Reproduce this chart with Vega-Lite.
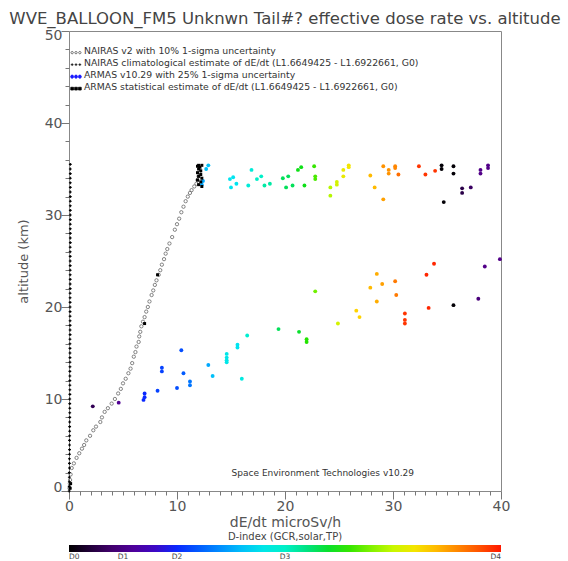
{
  "$schema": "https://vega.github.io/schema/vega-lite/v6.json",
  "width": 432,
  "height": 460,
  "autosize": "none",
  "padding": {"left": 69, "top": 31, "right": 67, "bottom": 70},
  "background": "white",
  "title": {
    "text": "WVE_BALLOON_FM5 Unknwn Tail#? effective dose rate vs. altitude",
    "font": "DejaVu Sans", "fontSize": 16.5, "fontWeight": "normal", "color": "#444444",
    "anchor": "middle", "frame": "group", "offset": 1
  },
  "config": {
    "view": {"stroke": "#888888", "strokeWidth": 1},
    "axis": {
      "domainColor": "#888888", "tickColor": "#888888", "labelColor": "#555555", "titleColor": "#555555",
      "labelFont": "DejaVu Sans", "titleFont": "DejaVu Sans", "titleFontWeight": "normal", "grid": false, "ticks": true
    }
  },
  "datasets": {
    "nairas": [
      {"rate": 0.05, "alt": 0.3}, {"rate": 0.08, "alt": 0.8}, {"rate": 0.1, "alt": 1.2}, {"rate": 0.15, "alt": 1.8},
      {"rate": 0.25, "alt": 2.5}, {"rate": 0.45, "alt": 3.0}, {"rate": 0.7, "alt": 3.6}, {"rate": 0.95, "alt": 4.1},
      {"rate": 1.2, "alt": 4.6}, {"rate": 1.4, "alt": 5.0}, {"rate": 1.6, "alt": 5.5}, {"rate": 1.95, "alt": 6.0},
      {"rate": 2.25, "alt": 6.6}, {"rate": 2.5, "alt": 7.0}, {"rate": 2.9, "alt": 7.5}, {"rate": 3.05, "alt": 8.0},
      {"rate": 3.3, "alt": 8.6}, {"rate": 3.6, "alt": 9.0}, {"rate": 3.95, "alt": 9.5}, {"rate": 4.25, "alt": 10.0},
      {"rate": 4.55, "alt": 10.6}, {"rate": 4.8, "alt": 11.1}, {"rate": 5.0, "alt": 11.7}, {"rate": 5.25, "alt": 12.2},
      {"rate": 5.5, "alt": 12.8}, {"rate": 5.7, "alt": 13.3}, {"rate": 5.85, "alt": 13.9}, {"rate": 6.0, "alt": 14.6},
      {"rate": 6.15, "alt": 15.1}, {"rate": 6.25, "alt": 15.7}, {"rate": 6.45, "alt": 16.2}, {"rate": 6.5, "alt": 16.8},
      {"rate": 6.6, "alt": 17.3}, {"rate": 6.7, "alt": 17.9}, {"rate": 6.85, "alt": 18.4}, {"rate": 7.0, "alt": 18.9},
      {"rate": 7.15, "alt": 19.5}, {"rate": 7.3, "alt": 20.0}, {"rate": 7.45, "alt": 20.6}, {"rate": 7.65, "alt": 21.3},
      {"rate": 7.8, "alt": 21.8}, {"rate": 7.95, "alt": 22.4}, {"rate": 8.1, "alt": 22.9}, {"rate": 8.3, "alt": 23.5},
      {"rate": 8.45, "alt": 24.0}, {"rate": 8.6, "alt": 24.6}, {"rate": 8.8, "alt": 25.2}, {"rate": 8.95, "alt": 25.8},
      {"rate": 9.1, "alt": 26.3}, {"rate": 9.3, "alt": 26.9}, {"rate": 9.55, "alt": 27.6}, {"rate": 9.8, "alt": 28.4},
      {"rate": 10.0, "alt": 29.0}, {"rate": 10.2, "alt": 29.6}, {"rate": 10.4, "alt": 30.3}, {"rate": 10.6, "alt": 30.9},
      {"rate": 10.8, "alt": 31.5}, {"rate": 11.0, "alt": 32.0}, {"rate": 11.2, "alt": 32.4}, {"rate": 11.35, "alt": 32.7},
      {"rate": 11.6, "alt": 33.1}, {"rate": 11.8, "alt": 33.4}, {"rate": 11.9, "alt": 33.8}, {"rate": 12.0, "alt": 34.2},
      {"rate": 12.05, "alt": 34.6}, {"rate": 12.1, "alt": 35.1}
    ],
    "clim": [
      {"rate": 0.02, "alt": 0.0}, {"rate": 0.02, "alt": 0.5}, {"rate": 0.03, "alt": 1.0}, {"rate": 0.03, "alt": 1.5},
      {"rate": 0.03, "alt": 2.0}, {"rate": 0.04, "alt": 2.5}, {"rate": 0.04, "alt": 3.0}, {"rate": 0.04, "alt": 3.5},
      {"rate": 0.05, "alt": 4.0}, {"rate": 0.05, "alt": 4.5}, {"rate": 0.05, "alt": 5.0}, {"rate": 0.05, "alt": 5.5},
      {"rate": 0.06, "alt": 6.0}, {"rate": 0.06, "alt": 6.5}, {"rate": 0.06, "alt": 7.0}, {"rate": 0.06, "alt": 7.5},
      {"rate": 0.07, "alt": 8.0}, {"rate": 0.07, "alt": 8.5}, {"rate": 0.07, "alt": 9.0}, {"rate": 0.07, "alt": 9.5},
      {"rate": 0.07, "alt": 10.0}, {"rate": 0.08, "alt": 10.5}, {"rate": 0.08, "alt": 11.0}, {"rate": 0.08, "alt": 11.5},
      {"rate": 0.08, "alt": 12.0}, {"rate": 0.08, "alt": 12.5}, {"rate": 0.08, "alt": 13.0}, {"rate": 0.09, "alt": 13.5},
      {"rate": 0.09, "alt": 14.0}, {"rate": 0.09, "alt": 14.5}, {"rate": 0.09, "alt": 15.0}, {"rate": 0.09, "alt": 15.5},
      {"rate": 0.09, "alt": 16.0}, {"rate": 0.09, "alt": 16.5}, {"rate": 0.1, "alt": 17.0}, {"rate": 0.1, "alt": 17.5},
      {"rate": 0.1, "alt": 18.0}, {"rate": 0.1, "alt": 18.5}, {"rate": 0.1, "alt": 19.0}, {"rate": 0.1, "alt": 19.5},
      {"rate": 0.1, "alt": 20.0}, {"rate": 0.1, "alt": 20.5}, {"rate": 0.1, "alt": 21.0}, {"rate": 0.1, "alt": 21.5},
      {"rate": 0.11, "alt": 22.0}, {"rate": 0.11, "alt": 22.5}, {"rate": 0.11, "alt": 23.0}, {"rate": 0.11, "alt": 23.5},
      {"rate": 0.11, "alt": 24.0}, {"rate": 0.11, "alt": 24.5}, {"rate": 0.11, "alt": 25.0}, {"rate": 0.11, "alt": 25.5},
      {"rate": 0.11, "alt": 26.0}, {"rate": 0.11, "alt": 26.5}, {"rate": 0.12, "alt": 27.0}, {"rate": 0.12, "alt": 27.5},
      {"rate": 0.12, "alt": 28.0}, {"rate": 0.12, "alt": 28.5}, {"rate": 0.12, "alt": 29.0}, {"rate": 0.12, "alt": 29.5},
      {"rate": 0.12, "alt": 30.0}, {"rate": 0.12, "alt": 30.5}, {"rate": 0.12, "alt": 31.0}, {"rate": 0.12, "alt": 31.5},
      {"rate": 0.12, "alt": 32.0}, {"rate": 0.12, "alt": 32.5}, {"rate": 0.12, "alt": 33.0}, {"rate": 0.12, "alt": 33.5},
      {"rate": 0.12, "alt": 34.0}, {"rate": 0.12, "alt": 34.5}, {"rate": 0.12, "alt": 35.0}, {"rate": 0.12, "alt": 35.5}
    ],
    "armas": [
      {"rate": 2.2, "alt": 9.2, "dindex": 0.3}, {"rate": 4.6, "alt": 9.6, "dindex": 0.55},
      {"rate": 7.0, "alt": 10.6, "dindex": 1.0}, {"rate": 7.0, "alt": 10.2, "dindex": 1.0}, {"rate": 6.9, "alt": 9.9, "dindex": 1.0},
      {"rate": 8.6, "alt": 13.4, "dindex": 1.1}, {"rate": 8.6, "alt": 13.0, "dindex": 1.1}, {"rate": 8.2, "alt": 10.9, "dindex": 1.1},
      {"rate": 10.0, "alt": 11.2, "dindex": 1.15}, {"rate": 10.4, "alt": 15.3, "dindex": 1.15}, {"rate": 10.6, "alt": 12.8, "dindex": 1.2},
      {"rate": 11.2, "alt": 11.9, "dindex": 1.3}, {"rate": 11.2, "alt": 11.5, "dindex": 1.3},
      {"rate": 12.9, "alt": 13.7, "dindex": 1.5}, {"rate": 13.3, "alt": 12.5, "dindex": 1.6},
      {"rate": 14.6, "alt": 14.9, "dindex": 1.8}, {"rate": 14.6, "alt": 14.5, "dindex": 1.8}, {"rate": 14.6, "alt": 14.2, "dindex": 1.8}, {"rate": 14.6, "alt": 14.0, "dindex": 1.8},
      {"rate": 15.6, "alt": 15.9, "dindex": 1.75}, {"rate": 15.6, "alt": 15.6, "dindex": 1.75},
      {"rate": 16.0, "alt": 12.2, "dindex": 1.85}, {"rate": 16.5, "alt": 16.9, "dindex": 1.95},
      {"rate": 19.4, "alt": 17.6, "dindex": 2.3}, {"rate": 21.3, "alt": 17.3, "dindex": 2.4},
      {"rate": 22.0, "alt": 16.5, "dindex": 2.55}, {"rate": 22.0, "alt": 16.2, "dindex": 2.55},
      {"rate": 22.8, "alt": 21.7, "dindex": 2.75}, {"rate": 24.9, "alt": 18.2, "dindex": 3.05},
      {"rate": 26.6, "alt": 19.6, "dindex": 3.3}, {"rate": 26.9, "alt": 18.9, "dindex": 3.3},
      {"rate": 27.9, "alt": 22.1, "dindex": 3.4}, {"rate": 28.5, "alt": 23.6, "dindex": 3.45}, {"rate": 28.5, "alt": 20.6, "dindex": 3.45},
      {"rate": 29.0, "alt": 22.5, "dindex": 3.5}, {"rate": 30.2, "alt": 22.8, "dindex": 3.65}, {"rate": 30.3, "alt": 21.3, "dindex": 3.65},
      {"rate": 31.1, "alt": 19.3, "dindex": 3.9}, {"rate": 31.1, "alt": 18.6, "dindex": 3.9}, {"rate": 31.1, "alt": 18.2, "dindex": 3.9},
      {"rate": 33.1, "alt": 23.5, "dindex": 3.95}, {"rate": 33.8, "alt": 24.7, "dindex": 3.95}, {"rate": 33.3, "alt": 19.9, "dindex": 3.95},
      {"rate": 35.6, "alt": 20.2, "dindex": 0.02}, {"rate": 37.9, "alt": 20.9, "dindex": 0.45},
      {"rate": 38.5, "alt": 24.4, "dindex": 0.5}, {"rate": 39.9, "alt": 25.2, "dindex": 0.5},
      {"rate": 12.9, "alt": 35.4, "dindex": 1.6}, {"rate": 12.7, "alt": 35.0, "dindex": 1.6},
      {"rate": 12.4, "alt": 33.7, "dindex": 1.5}, {"rate": 12.3, "alt": 33.3, "dindex": 1.5},
      {"rate": 15.2, "alt": 34.1, "dindex": 1.75}, {"rate": 14.9, "alt": 33.9, "dindex": 1.75}, {"rate": 15.5, "alt": 33.4, "dindex": 1.75}, {"rate": 15.0, "alt": 33.0, "dindex": 1.75},
      {"rate": 16.9, "alt": 34.9, "dindex": 1.9}, {"rate": 16.6, "alt": 33.2, "dindex": 1.9},
      {"rate": 17.4, "alt": 33.9, "dindex": 2.0}, {"rate": 17.8, "alt": 34.2, "dindex": 2.0},
      {"rate": 18.1, "alt": 33.2, "dindex": 2.1}, {"rate": 18.6, "alt": 33.4, "dindex": 2.1},
      {"rate": 19.8, "alt": 34.0, "dindex": 2.3}, {"rate": 20.3, "alt": 34.2, "dindex": 2.3}, {"rate": 20.1, "alt": 33.0, "dindex": 2.3}, {"rate": 20.7, "alt": 33.2, "dindex": 2.3},
      {"rate": 21.2, "alt": 34.9, "dindex": 2.45}, {"rate": 21.5, "alt": 35.2, "dindex": 2.45}, {"rate": 21.8, "alt": 33.2, "dindex": 2.45},
      {"rate": 22.7, "alt": 35.3, "dindex": 2.6}, {"rate": 22.8, "alt": 34.2, "dindex": 2.65}, {"rate": 22.8, "alt": 33.9, "dindex": 2.65},
      {"rate": 24.2, "alt": 33.0, "dindex": 2.95}, {"rate": 24.2, "alt": 32.1, "dindex": 2.95},
      {"rate": 24.8, "alt": 33.6, "dindex": 3.05}, {"rate": 24.8, "alt": 33.3, "dindex": 3.05},
      {"rate": 25.4, "alt": 34.9, "dindex": 3.15}, {"rate": 25.4, "alt": 34.2, "dindex": 3.15},
      {"rate": 25.9, "alt": 35.4, "dindex": 3.2}, {"rate": 25.9, "alt": 35.2, "dindex": 3.2},
      {"rate": 27.9, "alt": 34.3, "dindex": 3.4}, {"rate": 28.3, "alt": 33.0, "dindex": 3.4},
      {"rate": 29.1, "alt": 31.7, "dindex": 3.5}, {"rate": 29.1, "alt": 35.3, "dindex": 3.55},
      {"rate": 29.6, "alt": 34.9, "dindex": 3.55}, {"rate": 29.6, "alt": 34.5, "dindex": 3.55},
      {"rate": 30.2, "alt": 35.3, "dindex": 3.6}, {"rate": 30.2, "alt": 35.1, "dindex": 3.6},
      {"rate": 30.5, "alt": 34.4, "dindex": 3.7},
      {"rate": 32.4, "alt": 35.3, "dindex": 3.9}, {"rate": 33.0, "alt": 34.4, "dindex": 3.9}, {"rate": 33.9, "alt": 34.8, "dindex": 3.9},
      {"rate": 34.5, "alt": 35.4, "dindex": 0.02}, {"rate": 34.5, "alt": 35.0, "dindex": 0.02}, {"rate": 34.7, "alt": 31.4, "dindex": 0.02},
      {"rate": 35.6, "alt": 35.3, "dindex": 0.02}, {"rate": 35.6, "alt": 34.5, "dindex": 0.02},
      {"rate": 36.4, "alt": 32.9, "dindex": 0.25}, {"rate": 36.4, "alt": 32.4, "dindex": 0.25},
      {"rate": 37.2, "alt": 33.0, "dindex": 0.35},
      {"rate": 38.1, "alt": 34.9, "dindex": 0.5}, {"rate": 38.1, "alt": 34.5, "dindex": 0.5},
      {"rate": 38.8, "alt": 35.4, "dindex": 0.5}, {"rate": 38.8, "alt": 35.1, "dindex": 0.5}
    ],
    "stat": [
      {"rate": 11.9, "alt": 35.3}, {"rate": 12.0, "alt": 35.4}, {"rate": 12.1, "alt": 35.2}, {"rate": 12.3, "alt": 35.4},
      {"rate": 12.0, "alt": 35.0}, {"rate": 12.2, "alt": 34.8}, {"rate": 11.9, "alt": 34.6}, {"rate": 12.2, "alt": 34.4},
      {"rate": 12.0, "alt": 34.2}, {"rate": 12.3, "alt": 34.0}, {"rate": 11.9, "alt": 33.8}, {"rate": 12.2, "alt": 33.6},
      {"rate": 12.0, "alt": 33.3}, {"rate": 12.3, "alt": 33.1},
      {"rate": 8.2, "alt": 23.5}, {"rate": 7.0, "alt": 18.2}, {"rate": 0.1, "alt": 0.3}, {"rate": 0.15, "alt": 0.8}
    ],
    "legend": [
      {"series": "NAIRAS v2 with 10% 1-sigma uncertainty"},
      {"series": "NAIRAS climatological estimate of dE/dt (L1.6649425 - L1.6922661, G0)"},
      {"series": "ARMAS v10.29 with 25% 1-sigma uncertainty"},
      {"series": "ARMAS statistical estimate of dE/dt (L1.6649425 - L1.6922661, G0)"}
    ],
    "credit": [{"label": "Space Environment Technologies v10.29"}]
  },
  "layer": [
    {
      "data": {"name": "nairas"},
      "mark": {"type": "point", "shape": "circle", "filled": false, "size": 11, "strokeWidth": 0.8, "color": "#666666", "opacity": 1},
      "encoding": {
        "x": {"field": "rate", "type": "quantitative", "scale": {"domain": [0, 40], "nice": false},
          "axis": {"orient": "bottom",
            "values": [0,1,2,3,4,5,6,7,8,9,10,11,12,13,14,15,16,17,18,19,20,21,22,23,24,25,26,27,28,29,30,31,32,33,34,35,36,37,38,39,40],
            "labelExpr": "datum.value % 10 === 0 ? datum.label : ''",
            "ticks": true, "tickColor": "#777777", "tickWidth": 1, "tickOpacity": 1,
            "tickSize": {"condition": {"test": "datum.value % 10 === 0", "value": 8}, "value": 4},
            "domain": false, "grid": false, "labelOverlap": false, "labelBound": false, "labelFlush": false,
            "labelPadding": 0, "labelFontSize": 14,
            "title": "dE/dt microSv/h", "titleFontSize": 14, "titlePadding": 2}},
        "y": {"field": "alt", "type": "quantitative", "scale": {"domain": [0, 50], "nice": false},
          "axis": {"orient": "left",
            "values": [0,2,4,6,8,10,12,14,16,18,20,22,24,26,28,30,32,34,36,38,40,42,44,46,48,50],
            "labelExpr": "datum.value % 10 === 0 ? datum.label : ''",
            "ticks": true, "tickColor": "#777777", "tickWidth": 1, "tickOpacity": 1,
            "tickSize": {"condition": {"test": "datum.value % 10 === 0", "value": 8}, "value": 4},
            "domain": false, "grid": false, "labelOverlap": false, "labelBound": false, "labelFlush": true, "labelFlushOffset": 3,
            "labelPadding": -1, "labelFontSize": 14,
            "title": "altitude (km)", "titleFontSize": 13, "titlePadding": 14}}
      }
    },
    {
      "data": {"name": "clim"},
      "mark": {"type": "point", "shape": "cross", "filled": true, "size": 8, "color": "#000000", "opacity": 1},
      "encoding": {
        "x": {"field": "rate", "type": "quantitative", "scale": {"domain": [0, 40], "nice": false}, "axis": null},
        "y": {"field": "alt", "type": "quantitative", "scale": {"domain": [0, 50], "nice": false}, "axis": null}
      }
    },
    {
      "data": {"name": "armas"},
      "mark": {"type": "point", "shape": "circle", "filled": true, "size": 15, "opacity": 1},
      "encoding": {
        "x": {"field": "rate", "type": "quantitative", "scale": {"domain": [0, 40], "nice": false}, "axis": null},
        "y": {"field": "alt", "type": "quantitative", "scale": {"domain": [0, 50], "nice": false}, "axis": null},
        "color": {"field": "dindex", "type": "quantitative",
          "scale": {
            "domain": [0, 0.25, 0.5, 0.75, 1, 1.25, 1.5, 1.75, 2, 2.25, 2.5, 2.75, 3, 3.25, 3.5, 3.75, 4],
            "range": ["#000000", "#2a0048", "#520088", "#4800b8", "#0a28ff", "#0068ff", "#00a8ff", "#00e4f0", "#00f0c8", "#00e070", "#10e000", "#70f000", "#c8f800", "#ffe000", "#ffa000", "#ff6000", "#ff1800"],
            "interpolate": "rgb"
          },
          "legend": {
            "orient": "none", "legendX": 0, "legendY": 501, "direction": "horizontal",
            "gradientLength": 432, "gradientThickness": 7, "gradientStrokeWidth": 0,
            "title": "D-index (GCR,solar,TP)", "titleAnchor": "middle", "titleFont": "DejaVu Sans", "titleFontSize": 10,
            "titleFontWeight": "normal", "titleColor": "#444444", "titlePadding": 3,
            "values": [0, 0.5, 1, 2, 4],
            "labelExpr": "datum.value == 0 ? 'D0' : datum.value == 0.5 ? 'D1' : datum.value == 1 ? 'D2' : datum.value == 2 ? 'D3' : 'D4'",
            "labelFont": "DejaVu Sans", "labelFontSize": 7.5, "labelColor": "#444444", "labelAlign": "center", "labelOffset": 1, "labelOverlap": false
          }
        }
      }
    },
    {
      "data": {"name": "stat"},
      "mark": {"type": "point", "shape": "square", "filled": true, "size": 9, "color": "#000000", "opacity": 1},
      "encoding": {
        "x": {"field": "rate", "type": "quantitative", "scale": {"domain": [0, 40], "nice": false}, "axis": null},
        "y": {"field": "alt", "type": "quantitative", "scale": {"domain": [0, 50], "nice": false}, "axis": null}
      }
    },
    {
      "data": {"name": "legend"},
      "mark": {"type": "point", "size": 100, "opacity": 0, "strokeWidth": 0.8},
      "encoding": {
        "shape": {"field": "series", "type": "nominal",
          "scale": {
            "domain": [
              "NAIRAS v2 with 10% 1-sigma uncertainty",
              "NAIRAS climatological estimate of dE/dt (L1.6649425 - L1.6922661, G0)",
              "ARMAS v10.29 with 25% 1-sigma uncertainty",
              "ARMAS statistical estimate of dE/dt (L1.6649425 - L1.6922661, G0)"
            ],
            "range": [
              "M-0.92,0.3a0.22,0.22 0 1,0 0.44,0a0.22,0.22 0 1,0 -0.44,0M-0.22,0.3a0.22,0.22 0 1,0 0.44,0a0.22,0.22 0 1,0 -0.44,0M0.48,0.3a0.22,0.22 0 1,0 0.44,0a0.22,0.22 0 1,0 -0.44,0",
              "M-0.95,0.3h0.5M-0.7,0.05v0.5M-0.25,0.3h0.5M0,0.05v0.5M0.45,0.3h0.5M0.7,0.05v0.5",
              "M-0.98,0.3a0.28,0.28 0 1,0 0.56,0a0.28,0.28 0 1,0 -0.56,0M-0.28,0.3a0.28,0.28 0 1,0 0.56,0a0.28,0.28 0 1,0 -0.56,0M0.42,0.3a0.28,0.28 0 1,0 0.56,0a0.28,0.28 0 1,0 -0.56,0",
              "M-0.95,0.05h0.5v0.5h-0.5zM-0.25,0.05h0.5v0.5h-0.5zM0.45,0.05h0.5v0.5h-0.5z"
            ]
          },
          "legend": {
            "orient": "none", "legendX": 1, "legendY": 14, "title": null,
            "symbolSize": 121, "rowPadding": 0, "labelOffset": 2, "symbolOpacity": 1, "symbolStrokeWidth": 0.8,
            "labelFont": "DejaVu Sans", "labelFontSize": 9.3, "labelColor": "#333333", "labelLimit": 500
          }
        },
        "stroke": {"field": "series", "type": "nominal",
          "scale": {
            "domain": [
              "NAIRAS v2 with 10% 1-sigma uncertainty",
              "NAIRAS climatological estimate of dE/dt (L1.6649425 - L1.6922661, G0)",
              "ARMAS v10.29 with 25% 1-sigma uncertainty",
              "ARMAS statistical estimate of dE/dt (L1.6649425 - L1.6922661, G0)"
            ],
            "range": ["#555555", "#000000", "#1a1aff", "#000000"]
          },
          "legend": {
            "orient": "none", "legendX": 1, "legendY": 14, "title": null,
            "symbolSize": 121, "rowPadding": 0, "labelOffset": 2, "symbolOpacity": 1, "symbolStrokeWidth": 0.8,
            "labelFont": "DejaVu Sans", "labelFontSize": 9.3, "labelColor": "#333333", "labelLimit": 500
          }
        },
        "fill": {"field": "series", "type": "nominal",
          "scale": {
            "domain": [
              "NAIRAS v2 with 10% 1-sigma uncertainty",
              "NAIRAS climatological estimate of dE/dt (L1.6649425 - L1.6922661, G0)",
              "ARMAS v10.29 with 25% 1-sigma uncertainty",
              "ARMAS statistical estimate of dE/dt (L1.6649425 - L1.6922661, G0)"
            ],
            "range": ["transparent", "transparent", "#1a1aff", "#000000"]
          },
          "legend": {
            "orient": "none", "legendX": 1, "legendY": 14, "title": null,
            "symbolSize": 121, "rowPadding": 0, "labelOffset": 2, "symbolOpacity": 1, "symbolStrokeWidth": 0.8,
            "labelFont": "DejaVu Sans", "labelFontSize": 9.3, "labelColor": "#333333", "labelLimit": 500
          }
        }
      }
    },
    {
      "data": {"name": "credit"},
      "mark": {"type": "text", "font": "DejaVu Sans", "fontSize": 9, "color": "#333333", "align": "center", "baseline": "middle"},
      "encoding": {
        "x": {"datum": 23.5, "type": "quantitative", "scale": {"domain": [0, 40], "nice": false}, "axis": null},
        "y": {"datum": 2.0, "type": "quantitative", "scale": {"domain": [0, 50], "nice": false}, "axis": null},
        "text": {"field": "label"}
      }
    }
  ],
  "resolve": {"axis": {"x": "independent", "y": "independent"}}
}
